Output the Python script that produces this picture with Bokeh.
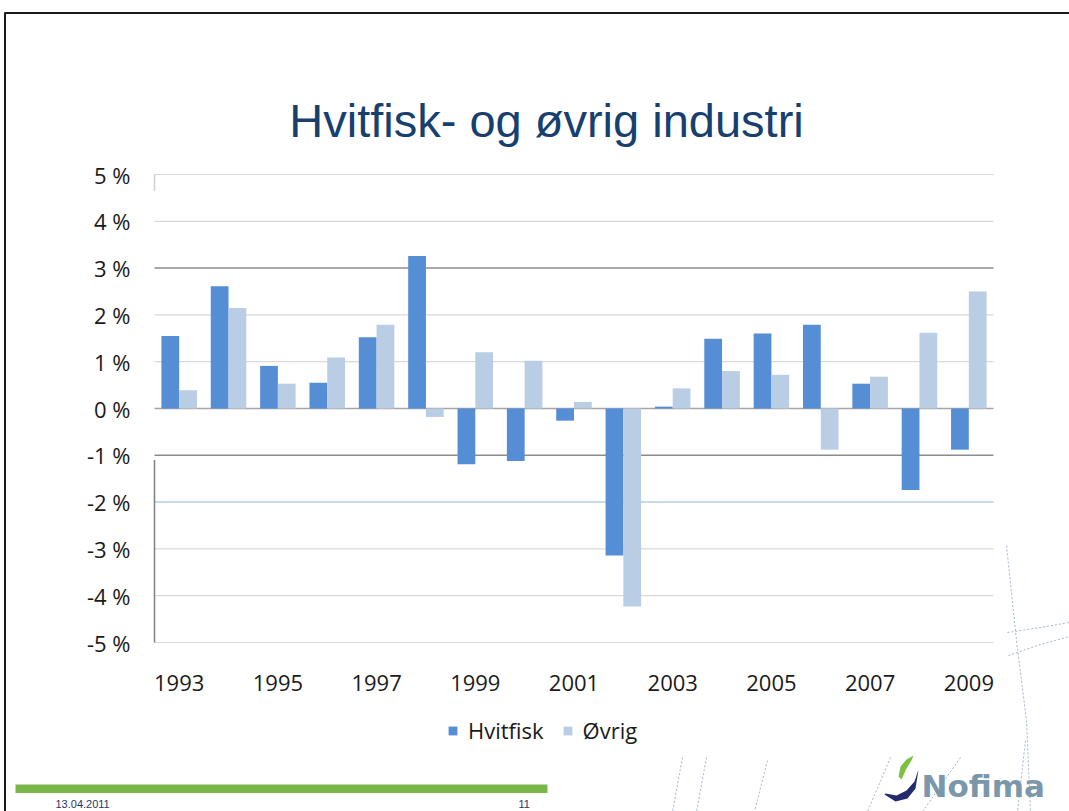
from bokeh.plotting import figure
from bokeh.models import (Range1d, FixedTicker, Legend, LegendItem, Label,
                          ColumnDataSource, LinearAxis)
from bokeh.transform import dodge
from bokeh.embed import file_html
from bokeh.resources import INLINE
from bokeh.core.properties import value

# ---------------- data ----------------
years = list(range(1993, 2010))
hvitfisk = [1.55, 2.61, 0.91, 0.55, 1.52, 3.26, -1.19, -1.12, -0.26, -3.14,
            0.04, 1.49, 1.60, 1.79, 0.53, -1.74, -0.88]
ovrig = [0.39, 2.15, 0.53, 1.09, 1.79, -0.18, 1.20, 1.02, 0.14, -4.23,
         0.43, 0.80, 0.72, -0.88, 0.68, 1.62, 2.50]
series_names = ["Hvitfisk", "Øvrig"]
x_tick_years = [1993, 1995, 1997, 1999, 2001, 2003, 2005, 2007, 2009]
x_tick_labels = ["1993", "1995", "1997", "1999", "2001", "2003", "2005", "2007", "2009"]
y_ticks = [-5, -4, -3, -2, -1, 0, 1, 2, 3, 4, 5]
y_tick_labels = ["-5 %", "-4 %", "-3 %", "-2 %", "-1 %", "0 %", "1 %", "2 %", "3 %", "4 %", "5 %"]
title_text = "Hvitfisk- og øvrig industri"
footer_date = "13.04.2011"
footer_page = "11"
logo_text = "Nofima"

# ---------------- styles / geometry ----------------
C_H = "#558ED5"
C_O = "#B9CDE5"
TXT = "#1a1a1a"
FONT = "Open Sans"
W, H = 1069, 811
FL, FR, FT, FB = 154, 993, 174, 642       # plot area in page pixels
X0, X1 = 1992.5, 2009.5
Y0, Y1 = -5, 5
SX = (FR - FL) / (X1 - X0)
SY = (FB - FT) / (Y1 - Y0)


def px2x(X):
    return X0 + (X - FL) / SX


def px2y(Y):
    return Y1 - (Y - FT) / SY


p = figure(width=W, height=H,
           x_range=Range1d(px2x(0), px2x(W)), y_range=Range1d(px2y(H), px2y(0)),
           x_axis_type=None, y_axis_type=None,
           min_border=0, min_border_left=0, min_border_right=0,
           min_border_top=0, min_border_bottom=0,
           output_backend="svg", toolbar_location=None)
p.outline_line_color = None
p.background_fill_color = "white"
p.border_fill_color = "white"
p.grid.visible = False

# ---------------- slide border ----------------
p.line([px2x(4), px2x(W)], [px2y(12.5), px2y(12.5)], line_color="#1a1a1a", line_width=2)
p.line([px2x(4.5), px2x(4.5)], [px2y(12), px2y(H)], line_color="#1a1a1a", line_width=2)

# ---------------- gridlines (from the y ticks) ----------------
special = {3: "#8c8c8c", -1: "#8c8c8c", -2: "#b8cce4", 0: "#a6a6a6"}
grid_cols = [special.get(t, "#d9d9d9") for t in y_ticks]
grid_w = [1.5 if t in special else 1.2 for t in y_ticks]
p.segment(x0=X0, x1=X1, y0=y_ticks, y1=y_ticks, line_color=grid_cols, line_width=grid_w)

# partial left axis rule
p.segment(x0=[X0], y0=[-1.1], x1=[X0], y1=[Y0], line_color="#7f7f7f", line_width=1.5)
p.segment(x0=[X0], y0=[Y1], x1=[X0], y1=[4.65], line_color="#d0d0d0", line_width=1.5)

# ---------------- bars ----------------
src = ColumnDataSource(dict(year=years, h=hvitfisk, o=ovrig))
r1 = p.vbar(x=dodge("year", -0.18, range=p.x_range), top="h", bottom=0, width=0.36,
            source=src, fill_color=C_H, line_color=None)
r2 = p.vbar(x=dodge("year", 0.18, range=p.x_range), top="o", bottom=0, width=0.36,
            source=src, fill_color=C_O, line_color=None)

# ---------------- axes ----------------
xa = LinearAxis(fixed_location=Y0, ticker=FixedTicker(ticks=x_tick_years))
xa.major_label_overrides = {y: s for y, s in zip(x_tick_years, x_tick_labels)}
xa.axis_line_color = None
xa.major_tick_line_color = None
xa.minor_tick_line_color = None
xa.major_label_standoff = 26
xa.major_label_text_font = FONT
xa.major_label_text_font_size = "22px"
xa.major_label_text_color = TXT
p.add_layout(xa, "below")

ya = LinearAxis(fixed_location=X0, ticker=FixedTicker(ticks=y_ticks))
ya.major_label_overrides = {y: s for y, s in zip(y_ticks, y_tick_labels)}
ya.axis_line_color = None
ya.major_tick_line_color = None
ya.minor_tick_line_color = None
ya.major_label_standoff = 18
ya.major_label_text_font = FONT
ya.major_label_text_font_size = "22px"
ya.major_label_text_color = TXT
p.add_layout(ya, "left")

# ---------------- title ----------------
p.add_layout(Label(x=px2x(546), y=px2y(120), text=title_text, text_align="center",
                   text_baseline="alphabetic", text_font="Liberation Sans",
                   text_font_size="47px", text_color="#17406F"))

# ---------------- legend ----------------
legend = Legend(items=[LegendItem(label=series_names[0], renderers=[r1]),
                       LegendItem(label=series_names[1], renderers=[r2])],
                location=(447, H - 745), orientation="horizontal",
                glyph_width=11, glyph_height=11, label_standoff=10, spacing=18,
                padding=0, margin=0, border_line_color=None, background_fill_alpha=0,
                label_text_font=FONT, label_text_font_size="22px", label_text_color=TXT)
p.add_layout(legend)

# ---------------- decorative dashed lines ----------------
deco = [
    ([1006, 1016, 1026, 1030], [545, 640, 720, 811]),
    ([1007, 1040, 1069], [632, 627, 622]),
    ([1008, 1040, 1069], [655, 644, 636]),
    ([682, 672], [757, 811]),
    ([706, 696], [757, 811]),
    ([767, 754], [760, 811]),
    ([890, 867], [757, 811]),
    ([960, 922], [757, 811]),
    ([1025, 1017], [740, 811]),
]
for xs, ys in deco:
    p.line([px2x(v) for v in xs], [px2y(v) for v in ys], line_color="#a3b8ca",
           line_width=1, line_dash="2 2")

# ---------------- footer ----------------
p.quad(left=[px2x(15)], right=[px2x(547)], top=[px2y(784)], bottom=[px2y(792.5)],
       fill_color="#7AB648", line_color=None)
p.text(x=[px2x(55)], y=[px2y(803)], text=[footer_date], text_baseline="alphabetic",
       text_font=value("Liberation Sans"), text_font_size="11px", text_color="#1F3864")
p.text(x=[px2x(518)], y=[px2y(803)], text=[footer_page], text_baseline="alphabetic",
       text_font=value("Liberation Sans"), text_font_size="11px", text_color="#1F3864")

# logo swoosh + text
navy_x = [884, 895, 907, 915, 918, 914, 906, 896, 885]
navy_y = [794, 801, 798, 788, 769, 781, 790, 795, 793]
green_x = [913, 906, 900, 898, 901, 906, 911]
green_y = [755, 759, 766, 776, 779, 768, 760]
p.patch([px2x(v) for v in navy_x], [px2y(v) for v in navy_y], fill_color="#232B6E", line_color=None)
p.patch([px2x(v) for v in green_x], [px2y(v) for v in green_y], fill_color="#7DC142", line_color=None)
p.text(x=[px2x(921)], y=[px2y(785)], text=[logo_text], text_baseline="alphabetic",
       text_font=value("DejaVu Sans"), text_font_style="bold", text_font_size="31px",
       text_color="#7A98AA")

open("out.html", "w").write(file_html(p, INLINE))
